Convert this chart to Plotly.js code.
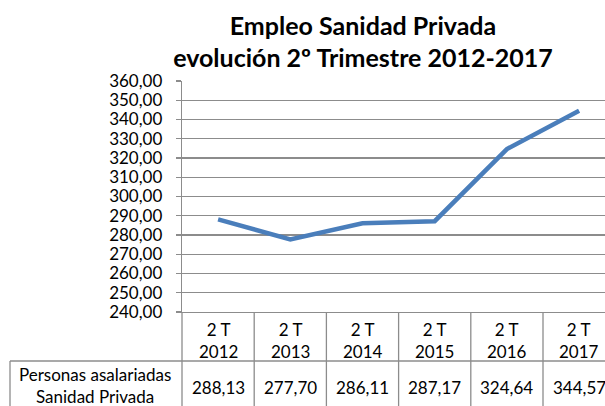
<!DOCTYPE html>
<html>
<head>
<meta charset="utf-8">
<script src="https://cdn.plot.ly/plotly-3.0.1.min.js"></script>
<style>html,body{margin:0;padding:0;background:#fff;}#chart{width:605px;height:406px;}</style>
</head>
<body>
<div id="chart"></div>
<script>
const quarters = ['2 T', '2 T', '2 T', '2 T', '2 T', '2 T'];
const years = ['2012', '2013', '2014', '2015', '2016', '2017'];
const values = [288.13, 277.70, 286.11, 287.17, 324.64, 344.57];
const seriesName = 'Personas asalariadas<br>Sanidad Privada';
const yTicks = [240, 250, 260, 270, 280, 290, 300, 310, 320, 330, 340, 350, 360];

const categories = years.map((y, i) => quarters[i] + ' ' + y);
const font = 'Lato, "Liberation Sans", sans-serif';
const gridColor = '#8c8c8c';

const W = 605, H = 406;
const mL = 182, mR = 0, mT = 81, mB = 94;
const plotW = W - mL - mR, plotH = H - mT - mB;
const colW = 72.2;
const xRange = [-0.5, -0.5 + plotW / colW];
const py = px => (H - mB - px) / plotH;
const pxX = px => (px - mL) / plotW;

const rowSplit = py(361);
const bottom = py(430);

const shapes = [];
shapes.push({type: 'line', xref: 'paper', yref: 'paper', x0: 0, x1: 0, y0: 0, y1: bottom, line: {color: gridColor, width: 1.3}});
for (let k = 0; k < categories.length - 1; k++) {
  shapes.push({type: 'line', xref: 'x', yref: 'paper', x0: k + 0.5, x1: k + 0.5, y0: 0, y1: bottom, line: {color: gridColor, width: 1.3}});
}
shapes.push({type: 'line', xref: 'paper', yref: 'paper', x0: pxX(10), x1: 1, y0: rowSplit, y1: rowSplit, line: {color: gridColor, width: 1.3}});
shapes.push({type: 'line', xref: 'paper', yref: 'paper', x0: pxX(10), x1: pxX(10), y0: rowSplit, y1: bottom, line: {color: gridColor, width: 1.3}});

const annotations = [];
const tFont = {family: font, size: 17, color: '#000'};
categories.forEach((c, i) => {
  annotations.push({xref: 'x', yref: 'paper', x: c, y: py(340), text: quarters[i] + '<br>' + years[i], showarrow: false, font: tFont, xanchor: 'center', yanchor: 'middle'});
  annotations.push({xref: 'x', yref: 'paper', x: c, y: py(387), text: values[i].toFixed(2).replace('.', ','), showarrow: false, font: tFont, xanchor: 'center', yanchor: 'middle'});
});
annotations.push({xref: 'paper', yref: 'paper', x: pxX(95), y: py(385), text: seriesName, showarrow: false, font: tFont, xanchor: 'center', yanchor: 'middle'});

const data = [{
  type: 'scatter', mode: 'lines', x: categories, y: values, name: 'Personas asalariadas Sanidad Privada',
  line: {color: '#4a7ebb', width: 4.5}, hoverinfo: 'x+y'
}];

const layout = {
  width: W, height: H,
  margin: {l: mL, r: mR, t: mT, b: mB, pad: 0},
  paper_bgcolor: '#fff', plot_bgcolor: '#fff',
  separators: ',.',
  showlegend: false,
  title: {
    text: '<b>Empleo Sanidad Privada<br>evolución 2º Trimestre 2012-2017</b>',
    font: {family: font, size: 25, color: '#000'},
    x: 363 / W, xanchor: 'center', xref: 'container',
    y: 0.915, yanchor: 'top', yref: 'container'
  },
  xaxis: {
    type: 'category', range: xRange, showticklabels: false, showgrid: false, zeroline: false,
    showline: true, linecolor: gridColor, linewidth: 1.3, ticks: '', fixedrange: true
  },
  yaxis: {
    range: [240, 360], tickvals: yTicks, tickformat: '.2f', showgrid: true, gridcolor: gridColor, gridwidth: 1.3,
    zeroline: false, showline: true, linecolor: gridColor, linewidth: 1.3,
    ticks: 'outside', ticklen: 5, tickcolor: gridColor, tickwidth: 1.3,
    tickfont: {family: font, size: 17, color: '#000'}, ticklabelstandoff: 10, fixedrange: true
  },
  shapes: shapes,
  annotations: annotations
};

Plotly.newPlot('chart', data, layout, {displayModeBar: false, staticPlot: true});
</script>
</body>
</html>
